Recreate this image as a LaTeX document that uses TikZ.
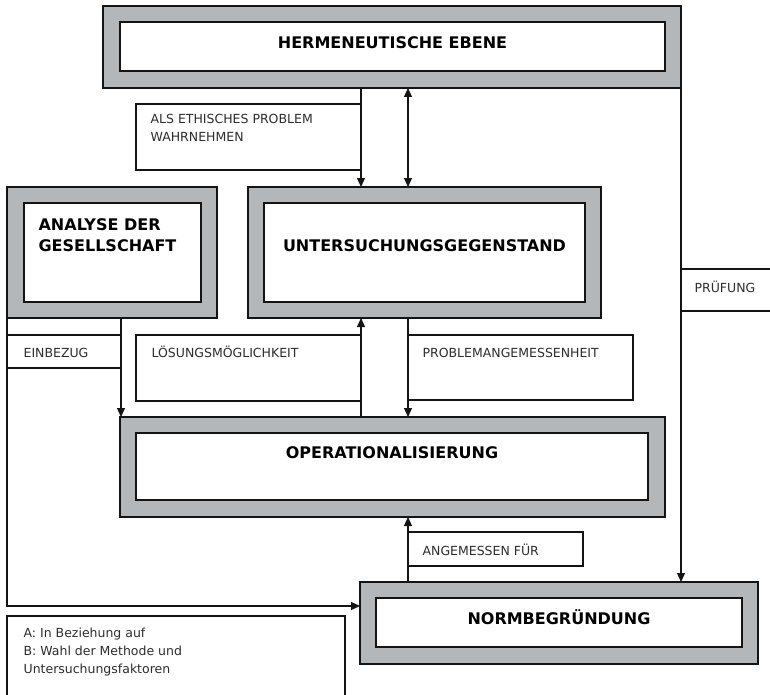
\documentclass[tikz,border=0pt]{standalone}
\usepackage{fontspec}
\setmainfont{DejaVu Sans}
\usetikzlibrary{arrows.meta}
\definecolor{framegray}{RGB}{180,183,186}
\definecolor{ink}{RGB}{20,20,20}
\definecolor{labelink}{RGB}{45,45,45}
\begin{document}
\begin{tikzpicture}[x=1pt,y=-1pt,line width=1.2pt,
  outerbox/.style={draw=ink,fill=framegray,line width=1.5pt,anchor=north west,inner sep=0pt,outer sep=0pt},
  innerbox/.style={draw=ink,fill=white,line width=1.5pt,anchor=north west,inner sep=0pt,outer sep=0pt},
  labelbox/.style={draw=ink,fill=white,line width=1.2pt,anchor=north west,inner sep=0pt,outer sep=0pt},
  titletext/.style={font=\fontsize{16}{21}\selectfont\bfseries,anchor=base,inner sep=0pt,text=black},
  titleleft/.style={font=\fontsize{16}{21}\selectfont\bfseries,anchor=base west,inner sep=0pt,text=black},
  lbl/.style={font=\fontsize{12.5}{18}\selectfont,anchor=base west,inner sep=0pt,text=labelink},
  arr/.style={draw=ink,line width=1.2pt,-{Triangle[length=9pt,width=8pt]}},
  arrtwo/.style={draw=ink,line width=1.2pt,{Triangle[length=9pt,width=8pt]}-{Triangle[length=9pt,width=8pt]}}
]
\useasboundingbox (0,0) rectangle (770,695);
\clip (0,0) rectangle (770,695);

% label boxes
\node[labelbox,minimum width=225pt,minimum height=66pt] (als) at (136,104) {};
\node[labelbox,minimum width=114pt,minimum height=33pt] (einb) at (7,335) {};
\node[labelbox,minimum width=225pt,minimum height=66pt] (loes) at (136,335) {};
\node[labelbox,minimum width=225pt,minimum height=65pt] (prob) at (408,335) {};
\node[labelbox,minimum width=100pt,minimum height=42pt] (pruef) at (681,269) {};
\node[labelbox,minimum width=175pt,minimum height=34pt] (ang) at (408,532) {};
\node[labelbox,minimum width=338pt,minimum height=95pt] (leg) at (7,616) {};

% framed boxes
\node[outerbox,minimum width=578pt,minimum height=82pt] (hermO) at (103,6) {};
\node[innerbox,minimum width=545pt,minimum height=49pt] (hermI) at (120,22) {};
\node[outerbox,minimum width=210pt,minimum height=131pt] (analO) at (7,187) {};
\node[innerbox,minimum width=177pt,minimum height=99pt] (analI) at (24,203) {};
\node[outerbox,minimum width=353pt,minimum height=131pt] (untO) at (248,187) {};
\node[innerbox,minimum width=321pt,minimum height=99pt] (untI) at (264,203) {};
\node[outerbox,minimum width=545pt,minimum height=100pt] (operO) at (120,417) {};
\node[innerbox,minimum width=512pt,minimum height=67pt] (operI) at (136,433) {};
\node[outerbox,minimum width=398pt,minimum height=82pt] (normO) at (360,582) {};
\node[innerbox,minimum width=366pt,minimum height=49pt] (normI) at (376,598) {};

% connector guide coordinates
\coordinate (xa) at (361,0);
\coordinate (xb) at (408,0);
\coordinate (xc) at (121,0);
\coordinate (yl) at (0,606);

% connectors
\draw[arr] (xa |- hermO.south) -- (xa |- untO.north);
\draw[arrtwo] (xb |- hermO.south) -- (xb |- untO.north);
\draw[arr] (xc |- analO.south) -- (xc |- operO.north);
\draw[arr] (analO.south west) -- (analO.south west |- yl) -- (normO.west |- yl);
\draw[arr] (xa |- operO.north) -- (xa |- untO.south);
\draw[arr] (xb |- untO.south) -- (xb |- operO.north);
\draw[arr] (xb |- normO.north) -- (xb |- operO.south);
\draw[arr] (hermO.south east) -- (hermO.south east |- normO.north);

% titles
\node[titletext] (hermT) at (392.5,49) {HERMENEUTISCHE EBENE};
\node[titleleft] (analT1) at (38,230) {ANALYSE DER};
\node[titleleft] (analT2) at (38,251) {GESELLSCHAFT};
\node[titletext] (untT) at (424.5,251) {UNTERSUCHUNGSGEGENSTAND};
\node[titletext] (operT) at (392,458) {OPERATIONALISIERUNG};
\node[titletext] (normT) at (559,624) {NORMBEGRÜNDUNG};

% labels
\node[lbl] (alsT1) at (150,124) {ALS ETHISCHES PROBLEM};
\node[lbl] (alsT2) at (150,142) {WAHRNEHMEN};
\node[lbl] (einbT) at (23,357) {EINBEZUG};
\node[lbl] (loesT) at (151,357) {LÖSUNGSMÖGLICHKEIT};
\node[lbl] (probT) at (422,357) {PROBLEMANGEMESSENHEIT};
\node[lbl] (pruefT) at (694,292) {PRÜFUNG};
\node[lbl] (angT) at (422,555) {ANGEMESSEN FÜR};
\node[lbl] (legT1) at (23,637) {A: In Beziehung auf};
\node[lbl] (legT2) at (23,655) {B: Wahl der Methode und};
\node[lbl] (legT3) at (23,673) {Untersuchungsfaktoren};
\end{tikzpicture}
\end{document}
